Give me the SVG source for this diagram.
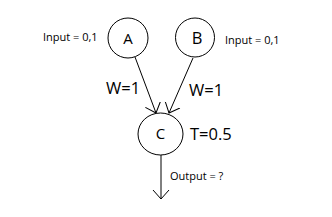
<svg xmlns="http://www.w3.org/2000/svg" width="332" height="217" viewBox="0 0 332 217">
<style>
.n{fill:#fff;stroke:#000;stroke-width:1}
.c{fill:none;stroke:#000;stroke-width:1}
text{font-family:"Open Sans","Liberation Sans",sans-serif;fill:#000}
.s{font-size:11px}
.l{font-size:16.5px}
.m{font-size:15px}
</style>
<defs>
<marker id="ah" viewBox="0 0 10 20" refX="9" refY="10" markerWidth="10" markerHeight="20" markerUnits="userSpaceOnUse" orient="auto">
<path d="M0,2 L9,10 L0,18" fill="none" stroke="#000" stroke-width="1"/>
</marker>
</defs>
<rect width="332" height="217" fill="#fff"/>
<g id="connectors">
<line class="c" x1="135" y1="57" x2="156" y2="113" marker-end="url(#ah)"/>
<line class="c" x1="193" y1="58" x2="169" y2="113" marker-end="url(#ah)"/>
<line class="c" x1="161" y1="155" x2="161" y2="199" marker-end="url(#ah)"/>
<text class="l" x="106" y="94">W=1</text>
<text class="l" x="189" y="96">W=1</text>
<text class="s" x="170" y="180">Output = ?</text>
</g>
<g id="A">
<circle class="n" cx="128" cy="38" r="20"/>
<text class="m" x="128" y="44" text-anchor="middle">A</text>
<text class="s" x="43" y="41">Input = 0,1</text>
</g>
<g id="B">
<circle class="n" cx="195" cy="37.5" r="19.5"/>
<text class="l" x="197" y="44" text-anchor="middle">B</text>
<text class="s" x="225" y="44">Input = 0,1</text>
</g>
<g id="C">
<ellipse class="n" cx="160.5" cy="134" rx="22.5" ry="21"/>
<text class="m" x="160.5" y="139" text-anchor="middle">C</text>
<text class="l" x="190" y="140">T=0.5</text>
</g>
</svg>
